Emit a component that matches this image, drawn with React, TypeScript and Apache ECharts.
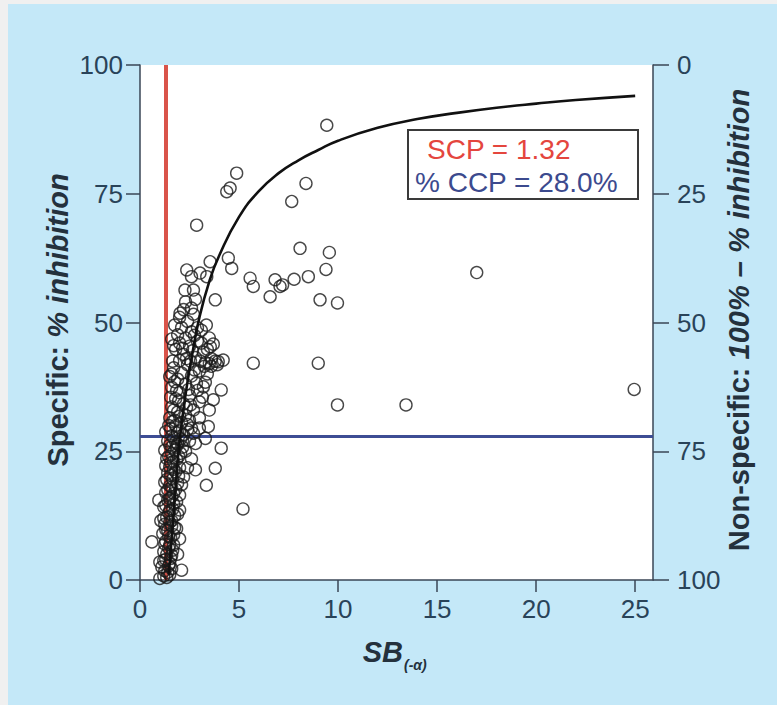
import React, { useEffect, useRef } from 'react';
import * as echarts from 'echarts';

// ---- data ----
const xTicks = [0, 5, 10, 15, 20, 25];
const yTicks = [0, 25, 50, 75, 100];
const scpValue = 1.32;
const ccpValue = 28.0;

const curveX = [1.45, 1.6, 1.8, 2.0, 2.3, 2.6, 3.0, 3.5, 4.0, 5.0, 6.0, 7.0, 8.0, 9.0, 10.0, 12.0, 14.0, 16.0, 18.0, 20.0, 22.0, 25.0];
const curveY = [1, 8, 18, 27, 36, 43, 51, 58, 63, 70.5, 75.5, 79, 81.5, 83.5, 85.3, 87.8, 89.5, 90.7, 91.7, 92.5, 93.2, 94.0];

const pointX = [
  1.2, 1.4, 1.1, 1.5, 1.3, 1.6, 1.2, 1.45, 1.7, 1.3, 1.55, 1.15, 1.4, 1.75, 1.25, 1.6, 1.35, 1.9, 1.5, 1.2,
  1.7, 1.4, 1.6, 1.3, 1.8, 1.5, 1.25, 1.65, 1.95, 1.4, 1.7, 1.3, 1.55, 1.85, 1.45, 2.05, 1.25, 1.6, 1.9, 1.4,
  1.7, 2.2, 1.3, 1.55, 1.0, 1.05, 0.95, 0.6, 1.0, 2.1, 2.0, 1.85, 1.9, 2.0,
  1.8, 2.1, 2.5, 1.5, 2.3, 1.9, 2.7, 1.6, 2.2, 3.0, 1.8, 2.5, 2.0, 2.9, 1.6, 2.3, 3.3, 1.9, 2.6, 2.1,
  3.0, 1.7, 2.4, 3.5, 2.0, 2.8, 2.2, 3.2, 1.8, 2.5, 2.0, 2.9, 2.3, 1.9, 2.6, 2.1, 2.4, 2.0, 2.7, 2.3,
  2.9, 3.1, 3.6, 3.8, 3.4, 3.2, 2.7, 3.0, 3.45, 2.5, 2.8, 2.3, 2.6, 2.4, 2.8, 2.2, 2.1, 2.0,
  3.7, 4.1, 3.95, 4.2, 3.55, 3.35, 3.8, 4.1, 3.8, 3.35, 2.02, 2.6,
  1.7, 2.15, 1.6, 2.45, 2.75, 1.75, 2.35, 2.65, 3.05, 2.85, 1.65, 2.0, 2.4, 1.85, 2.15, 2.35, 2.55, 1.95, 2.55, 3.25,
  1.35, 1.5, 1.25, 1.6, 1.45, 1.2, 1.55, 1.35, 1.65, 1.5, 1.25, 1.7, 1.45, 1.3, 1.6, 1.5, 1.2, 1.75, 1.45, 1.65,
  1.3, 1.85, 1.5, 1.7, 1.4, 1.6, 1.9, 1.35, 1.55, 1.8, 2.0, 1.5, 1.7, 1.35, 1.95, 1.6, 1.75, 2.15, 1.5, 1.8,
  2.05, 1.6, 1.9, 1.45, 1.75, 2.0, 1.7, 2.4, 1.55, 1.85, 1.5, 1.65, 1.6, 1.75,
  3.3, 3.6, 3.9, 3.4, 3.7, 3.1, 3.5, 2.75, 2.2, 2.8, 3.15, 3.5, 3.0, 2.6, 3.3,
  2.27, 2.7, 2.36, 2.6, 3.03, 3.37, 3.54, 2.86, 4.46, 4.63, 4.38, 4.55, 4.88,
  9.43, 8.38, 7.66, 8.08, 9.56, 9.39, 8.5, 7.78, 7.2, 9.09, 9.97, 9.0, 9.97, 13.43, 17.0, 24.95,
  5.2, 5.72, 5.56, 5.72, 6.82, 7.07, 6.57,
];
const pointY = [
  0.8, 1.5, 2.5, 3.2, 4.0, 4.8, 5.5, 6.2, 6.8, 7.5, 8.2, 9.0, 9.6, 10.2, 10.8, 11.5, 12.2, 12.8, 13.5, 14.2,
  14.8, 15.5, 16.2, 17.0, 17.6, 18.3, 19.0, 19.6, 20.2, 20.8, 21.5, 22.2, 22.8, 23.4, 24.0, 24.6, 25.2, 25.8, 26.4, 27.0,
  27.6, 28.2, 28.8, 29.4, 3.5, 11.5, 15.5, 7.4, 0.3, 1.9, 13.6, 10.0, 5.0, 8.0,
  30.0, 30.6, 31.0, 31.5, 32.0, 32.6, 33.0, 33.6, 34.2, 34.6, 35.2, 35.8, 36.4, 36.8, 37.4, 38.0, 38.4, 39.0, 39.6, 40.2,
  40.6, 41.2, 41.8, 42.0, 42.6, 43.2, 43.8, 44.2, 44.8, 45.4, 46.0, 46.4, 47.0, 47.6, 48.2, 49.0, 50.2, 51.0, 51.6, 54.0,
  49.0, 46.0, 43.0, 42.5, 40.0, 37.5, 28.5, 29.5, 29.8, 27.0, 26.5, 25.0, 23.5, 21.8, 21.4, 20.0, 18.5, 16.5,
  35.0, 36.9, 42.4, 42.7, 45.3, 49.5, 54.4, 25.6, 21.7, 18.4, 51.8, 52.8,
  45.5, 45.0, 40.0, 37.0, 40.8, 38.5, 43.0, 44.5, 42.5, 38.2, 30.8, 28.9, 29.2, 26.0, 27.0, 33.5, 34.0, 34.8, 42.5, 41.5,
  0.5, 1.0, 1.8, 2.2, 2.8, 3.8, 4.2, 5.0, 5.8, 6.8, 7.0, 8.8, 8.5, 9.8, 10.5, 11.2, 12.0, 12.5, 13.0, 13.8,
  14.5, 15.2, 15.8, 16.8, 17.5, 18.0, 18.8, 19.5, 20.3, 21.0, 21.8, 22.0, 23.0, 23.6, 24.0, 24.5, 25.2, 25.8, 26.2, 26.8,
  27.4, 28.0, 28.6, 30.0, 31.0, 31.8, 33.0, 30.2, 35.5, 36.8, 39.5, 42.5, 46.8, 49.5,
  42.2, 41.5, 41.8, 44.8, 45.8, 48.5, 47.0, 47.5, 52.5, 54.5, 35.5, 33.0, 31.5, 29.5, 27.5,
  56.3, 56.3, 60.2, 58.9, 59.6, 58.9, 61.8, 68.9, 62.5, 60.5, 75.4, 76.1, 79.0,
  88.3, 77.0, 73.5, 64.4, 63.6, 60.3, 58.9, 58.4, 57.3, 54.4, 53.8, 42.1, 34.0, 34.0, 59.7, 37.0,
  13.8, 42.1, 58.6, 57.0, 58.3, 57.0, 55.0,
];

const FONT = 'Liberation Sans, Arial, Helvetica, sans-serif';
const AXIS_COLOR = '#3a4656';
const LABEL_COLOR = '#294359';
const TITLE_COLOR = '#24313d';
const OFFX = 8;
const OFFY = 4;

export default function App() {
  const ref = useRef<HTMLDivElement>(null);

  useEffect(() => {
    document.body.style.margin = '0';
    if (!ref.current) return;
    const chart = echarts.init(ref.current, undefined, { renderer: 'svg' });

    const points = pointX.map((x, i) => [x, pointY[i]]);
    const curve = curveX.map((x, i) => [x, curveY[i]]);

    const axisLine = { show: true, lineStyle: { color: AXIS_COLOR, width: 1.5 } };
    const labelBase = { fontSize: 26, color: LABEL_COLOR, fontFamily: FONT };

    chart.setOption({
      animation: false,
      backgroundColor: '#c4e8f8',
      grid: {
        left: 140 - OFFX,
        right: 777 - 653,
        top: 65 - OFFY,
        bottom: 705 - 580,
        show: true,
        backgroundColor: '#ffffff',
        borderWidth: 0,
      },
      xAxis: {
        type: 'value',
        min: 0,
        max: 25.9,
        interval: 5,
        axisLine,
        axisTick: { show: true, length: 12, customValues: xTicks, lineStyle: { color: AXIS_COLOR, width: 1.5 } },
        axisLabel: { ...labelBase, margin: 16, customValues: xTicks },
        splitLine: { show: false },
      },
      yAxis: [
        {
          type: 'value',
          position: 'left',
          min: 0,
          max: 100,
          interval: 25,
          axisLine,
          axisTick: { show: true, length: 14, customValues: yTicks, lineStyle: { color: AXIS_COLOR, width: 1.5 } },
          axisLabel: { ...labelBase, margin: 17, customValues: yTicks },
          splitLine: { show: false },
        },
        {
          type: 'value',
          position: 'right',
          inverse: true,
          min: 0,
          max: 100,
          interval: 25,
          axisLine,
          axisTick: { show: true, length: 16, customValues: yTicks, lineStyle: { color: AXIS_COLOR, width: 1.5 } },
          axisLabel: { ...labelBase, margin: 24, customValues: yTicks },
          splitLine: { show: false },
        },
      ],
      series: [
        {
          type: 'scatter',
          xAxisIndex: 0,
          yAxisIndex: 0,
          data: points,
          symbol: 'circle',
          symbolSize: 12,
          itemStyle: { color: 'rgba(0,0,0,0)', borderColor: '#1a1a1a', borderWidth: 1.4 },
          z: 3,
          markLine: {
            silent: true,
            symbol: ['none', 'none'],
            label: { show: false },
            z: 2,
            data: [
              { xAxis: scpValue, lineStyle: { color: '#d9544a', width: 4, type: 'solid' } },
              { yAxis: ccpValue, lineStyle: { color: '#3d4d94', width: 3, type: 'solid' } },
            ],
          },
        },
        {
          type: 'line',
          xAxisIndex: 0,
          yAxisIndex: 0,
          data: curve,
          smooth: true,
          showSymbol: false,
          lineStyle: { color: '#111111', width: 2.6 },
          z: 4,
        },
      ],
      graphic: [
        {
          type: 'rect',
          shape: { x: 408 - OFFX, y: 130 - OFFY, width: 230, height: 69 },
          style: { fill: '#ffffff', stroke: '#3a3a3a', lineWidth: 2 },
          z: 10,
        },
        {
          type: 'text',
          x: 427 - OFFX,
          y: 149 - OFFY,
          style: { text: 'SCP = 1.32', fill: '#e4463e', fontSize: 28, fontFamily: FONT, align: 'left', verticalAlign: 'middle' },
          z: 11,
        },
        {
          type: 'text',
          x: 415 - OFFX,
          y: 182 - OFFY,
          style: { text: '% CCP = 28.0%', fill: '#3c4a8e', fontSize: 28, fontFamily: FONT, align: 'left', verticalAlign: 'middle' },
          z: 11,
        },
        {
          type: 'text',
          x: 58 - OFFX,
          y: 320 - OFFY,
          rotation: Math.PI / 2,
          style: {
            text: '{a|Specific: }{b|% inhibition}',
            align: 'center',
            verticalAlign: 'middle',
            rich: {
              a: { fontSize: 29, fontWeight: 'bold', fontFamily: FONT, fill: TITLE_COLOR },
              b: { fontSize: 29, fontWeight: 'bold', fontStyle: 'italic', fontFamily: FONT, fill: TITLE_COLOR },
            },
          },
        },
        {
          type: 'text',
          x: 739 - OFFX,
          y: 320 - OFFY,
          rotation: Math.PI / 2,
          style: {
            text: '{a|Non-specific: }{b|100% – % inhibition}',
            align: 'center',
            verticalAlign: 'middle',
            rich: {
              a: { fontSize: 29, fontWeight: 'bold', fontFamily: FONT, fill: TITLE_COLOR },
              b: { fontSize: 29, fontWeight: 'bold', fontStyle: 'italic', fontFamily: FONT, fill: TITLE_COLOR },
            },
          },
        },
        {
          type: 'text',
          x: 403 - OFFX,
          y: 652 - OFFY,
          style: { text: 'SB', fill: TITLE_COLOR, fontSize: 29, fontWeight: 'bold', fontStyle: 'italic', fontFamily: FONT, align: 'right', verticalAlign: 'middle' },
        },
        {
          type: 'text',
          x: 404 - OFFX,
          y: 665 - OFFY,
          style: { text: '(-α)', fill: TITLE_COLOR, fontSize: 14, fontWeight: 'bold', fontStyle: 'italic', fontFamily: FONT, align: 'left', verticalAlign: 'middle' },
        },
      ],
    });

    return () => chart.dispose();
  }, []);

  return (
    <div style={{ position: 'relative', width: 777, height: 705, background: '#f0f0f0', overflow: 'hidden' }}>
      <div ref={ref} style={{ position: 'absolute', left: OFFX, top: OFFY, width: 777 - OFFX, height: 705 - OFFY }} />
    </div>
  );
}
